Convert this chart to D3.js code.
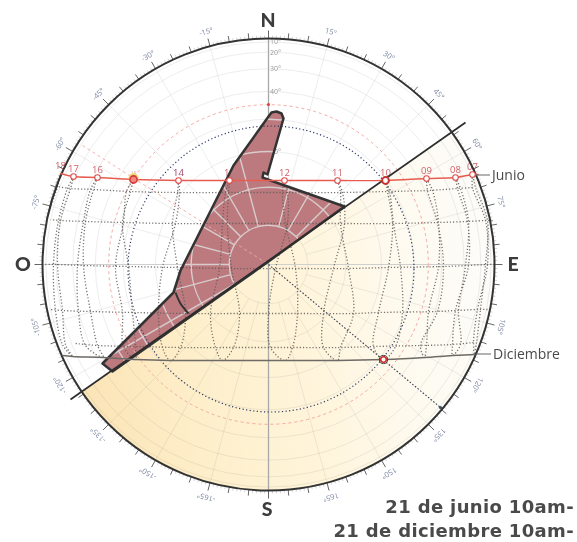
<!DOCTYPE html>
<html><head><meta charset="utf-8">
<style>html,body{margin:0;padding:0;background:#fff}svg{display:block;filter:blur(.3px)}</style>
<script src="https://cdnjs.cloudflare.com/ajax/libs/d3/7.8.5/d3.min.js"></script>
</head><body><svg id="c" width="577" height="542"></svg>
<script>
// altitude / azimuth grid
const altitudes=[10,20,30,40,50,60,70,80];
const azimuthLabels=[15,30,45,60,75,105,120,135,150,165,-15,-30,-45,-60,-75,-105,-120,-135,-150,-165];
const cardinals=[{t:"N",az:0},{t:"E",az:90},{t:"S",az:180},{t:"O",az:270}];
// sun path: hours and projected east/north coordinates (horizon radius = 226)
const hours=["07","08","09","10","11","12","13","14","15","16","17","18"];
const juneE=[204,187,158,117,69,16,-39,-90,-135,-171,-195,-208];
const juneN=[90,87,86,84,84,84,84,84,85,87,88,91];
const mayN=[77,76,74,73,72,72,72,72,73,75,76,78];
const aprN=[44,43,42,41,41,41,41,41,42,43,44,45];
const marN=[0,-1,-2,-3,-4,-4,-4,-3,-2,-1,0,0];
const febN=[-45,-46,-47,-48,-49,-49,-49,-49,-48,-47,-46,-45];
const janN=[-78,-80,-81,-82,-83,-83,-83,-83,-82,-81,-80,-79];
const decN=[-90,-91,-93,-95,-96,-96,-96,-96,-95,-93,-92,-91];
const mayE1=[204,189,159,119,72,14,-40,-91,-138,-175,-198,-211];
const mayE2=[207,192,164,121,74,19,-43,-89,-142,-178,-201,-213];
const aprE1=[217,199,169,124,72,17,-41,-96,-146,-183,-208,-222];
const aprE2=[219,200,170,125,76,19,-46,-93,-145,-185,-210,-222];
const marE1=[219,200,175,120,80,27,-37,-91,-140,-185,-211];
const marE2=[217,197,170,132,65,7,-49,-106,-153,-191,-215];
const febE1=[209,187,169,110,85,29,-29,-83,-136,-178,-206];
const febE2=[212,190,160,134,55,0,-58,-110,-146,-190,-213];
const janE1=[205,184,152,105,72,24,-35,-88,-133,-171,-203];
const janE2=[208,192,158,127,55,2,-53,-106,-145,-183,-206];
const decE=[206,184,156,115,69,17,-46,-98,-133,-165,-196];
// row ends at the horizon [west, east]
const aprEnds=[-218,224], marEnds=[-225,226], febEnds=[-218,219], janEnds=[-193,205];
const juneEnds=[[-208,91],[210,90]], decEnds=[[-206,-91],[207,-90]];
// shading mask outline
const maskE=[76,2,-6,-5,-1,15,13,8,3,0,-35,-88,-95,-166,-156,0];
const maskN=[58,84,87,92,90,146,151,153,152,148,99,-6,-28,-99,-107,3];
const innerArcE=[-93,-88,-80], innerArcN=[-28,-39,-49];
const wallE=[-198,197], wallN=[-135,142];
const shadeE=[-198,197,300,300,-300,-300], shadeN=[-135,142,142,-300,-300,-135];
// reference circles / rays
const redAlt=45, blueCircle={e:2.5,n:-4.5,r:143};
const rayJune=[[-186,119],[0,0]], rayDec=[[0,0],[172,-143]];
const june10={e:117,n:84}, june15={e:-135,n:85}, dec10={e:115,n:-95}, noonDot={e:0,n:160};

const svg=d3.select("#c");
const R=226,cx=268.5,cy=264.5;
const X=d3.scaleLinear().domain([-R,R]).range([cx-R,cx+R]);
const Y=d3.scaleLinear().domain([-R,R]).range([cy+R,cy-R]);
const rad=d3.scaleLinear().domain([0,1]).range([0,R]); // orthographic: r = R cos(alt)
const altR=a=>rad(Math.cos(a*Math.PI/180));
const pol=(az,r)=>[cx+r*Math.sin(az*Math.PI/180),cy-r*Math.cos(az*Math.PI/180)];
const zip=(e,n)=>e.map((v,i)=>[v,n[i]]);
const ln=d3.line().x(d=>X(d[0])).y(d=>Y(d[1]));
const smooth=d3.line().x(d=>X(d[0])).y(d=>Y(d[1])).curve(d3.curveCatmullRom);
const defs=svg.append("defs");
defs.append("clipPath").attr("id","disc").append("circle").attr("cx",cx).attr("cy",cy).attr("r",R);
defs.append("clipPath").attr("id","maskClip").append("path").attr("d",ln(zip(maskE,maskN))+"Z");
const g=defs.append("linearGradient").attr("id","sun").attr("gradientUnits","userSpaceOnUse")
 .attr("x1",75).attr("y1",390).attr("x2",490).attr("y2",340);
[[0,"#fbe3b4"],[.3,"#feefcb"],[.58,"#fff5dc"],[.8,"#fefaef"],[1,"#fdfcf9"]].forEach(s=>g.append("stop").attr("offset",s[0]).attr("stop-color",s[1]));

svg.append("path").attr("clip-path","url(#disc)").attr("fill","url(#sun)").attr("d",ln(zip(shadeE,shadeN))+"Z");

function grid(sel,col,w){
 altitudes.forEach(a=>sel.append("circle").attr("cx",cx).attr("cy",cy).attr("r",altR(a)).attr("fill","none").attr("stroke",col).attr("stroke-width",w));
 d3.range(0,360,15).filter(a=>a%180!==0).forEach(a=>{
  const p=pol(a,altR(80)),q=pol(a,R);
  sel.append("line").attr("x1",p[0]).attr("y1",p[1]).attr("x2",q[0]).attr("y2",q[1]).attr("stroke",col).attr("stroke-width",w);
 });
}
grid(svg.append("g"),"rgba(110,110,110,.16)",.8);

// compass ticks
const ticks=svg.append("g");
d3.range(0,360).forEach(a=>{
 const major=a%15===0,mid=a%5===0;
 const p=pol(a,R),q=pol(a,R+(major?8:mid?6:3));
 ticks.append("line").attr("x1",p[0]).attr("y1",p[1]).attr("x2",q[0]).attr("y2",q[1])
  .attr("stroke",mid?"#555":"#bbb").attr("stroke-width",mid?.9:.6);
});
azimuthLabels.forEach(a=>{
 const p=pol(a,R+15);
 svg.append("text").attr("transform",`translate(${p[0]},${p[1]}) rotate(${a})`).attr("text-anchor","middle").attr("dy","0.35em")
  .attr("font-family","Open Sans").attr("font-size",7.5).attr("fill","#7d88a3").text(a+"°");
});
cardinals.forEach(c=>{
 const o={N:[268,27],E:[513,271],S:[267,516],O:[23,271]}[c.t];
 svg.append("text").attr("x",o[0]).attr("y",o[1]).attr("text-anchor","middle").attr("font-family","Lato").attr("font-weight",900)
  .attr("font-size",19.5).attr("fill","#3c3c3c").text(c.t);
});

// axes through the centre
svg.append("line").attr("x1",cx).attr("x2",cx).attr("y1",cy-R).attr("y2",cy+R).attr("stroke","#a8a8a8").attr("stroke-width",1.3);
svg.append("line").attr("x1",cx-R).attr("x2",cx+R).attr("y1",cy).attr("y2",cy).attr("stroke","#ccc").attr("stroke-width",.9);
altitudes.forEach(a=>svg.append("text").attr("x",cx+1.5).attr("y",cy-altR(a)+2.5).attr("font-family","Open Sans").attr("font-size",7).attr("fill","#999").text(a+"°"));

// hour labels beneath the mask
const labelDark={"14":"#a0456a"};
hours.forEach((h,i)=>{
 svg.append("text").attr("x",X(juneE[i])).attr("y",Y(juneN[i])-5).attr("text-anchor","middle").attr("font-family","Open Sans").attr("font-size",h==="15"?5:9.5)
  .attr("fill",labelDark[h]||"#d0606a").attr("opacity",h==="15"?.5:1).text(h);
});

// shading mask
svg.append("path").attr("d",ln(zip(maskE,maskN))+"Z").attr("fill","#bc7a7f");
grid(svg.append("g").attr("clip-path","url(#maskClip)"),"#d8cccc",1.4);

// reference circles and rays
svg.append("circle").attr("cx",cx).attr("cy",cy).attr("r",altR(redAlt)).attr("fill","none").attr("stroke","#f5a8a2").attr("stroke-width",1).attr("stroke-dasharray","3 3");
svg.append("circle").attr("cx",X(blueCircle.e)).attr("cy",Y(blueCircle.n)).attr("r",blueCircle.r).attr("fill","none").attr("stroke","#2b3a66").attr("stroke-width",1.2).attr("stroke-dasharray","1.2 2.4");
svg.append("path").attr("d",ln(rayJune)).attr("fill","none").attr("stroke","#f5a8a2").attr("stroke-width",.9).attr("stroke-dasharray","3 3");
svg.append("path").attr("d",ln(rayDec)).attr("fill","none").attr("stroke","#3a4055").attr("stroke-width",1.1).attr("stroke-dasharray","1.6 1.8");
svg.append("circle").attr("cx",X(rayDec[1][0])).attr("cy",Y(rayDec[1][1])).attr("r",1.6).attr("fill","#3a5070");

// hour loops and month rows (dotted)
const dotted=svg.append("g").attr("fill","none").attr("stroke","#5d5a55").attr("stroke-width",1.3).attr("stroke-dasharray","1.2 2").attr("opacity",.85);
hours.forEach((h,i)=>{
 const pts=[[juneE[i],juneN[i]],[mayE1[i],mayN[i]],[aprE1[i],aprN[i]],[marE1[i],marN[i]],[febE1[i],febN[i]],[janE1[i],janN[i]],[decE[i],decN[i]],
  [janE2[i],janN[i]],[febE2[i],febN[i]],[marE2[i],marN[i]],[aprE2[i],aprN[i]],[mayE2[i],mayN[i]],[juneE[i],juneN[i]]].filter(d=>d[0]!==undefined);
 dotted.append("path").attr("d",smooth(pts));
});
const row=(e,n,ends)=>{
 const pts=e.map((v,i)=>[v,n[i]]).filter(d=>!ends||(d[0]>ends[0]&&d[0]<ends[1]));
 if(ends){pts.unshift([ends[1],n[0]]);pts.push([ends[0],n[n.length-1]]);}
 dotted.append("path").attr("d",smooth(pts));
};
row(mayE1,mayN);row(aprE1,aprN,aprEnds);row(marE1,marN,marEnds);row(febE1,febN,febEnds);row(janE1,janN,janEnds);

// mask outline and wall
svg.append("path").attr("d",ln(zip(maskE,maskN))+"Z").attr("fill","none").attr("stroke","#333").attr("stroke-width",2.5).attr("stroke-linejoin","round");
svg.append("path").attr("d",smooth(zip(innerArcE,innerArcN))).attr("fill","none").attr("stroke","#333").attr("stroke-width",2);
svg.append("path").attr("d",ln(zip(wallE,wallN))).attr("fill","none").attr("stroke","#2d2d2d").attr("stroke-width",1.7);
svg.append("circle").attr("cx",cx).attr("cy",cy).attr("r",R).attr("fill","none").attr("stroke","#333").attr("stroke-width",2);

// solstice paths
const junePts=[juneEnds[1],...zip(juneE,juneN),juneEnds[0]];
svg.append("path").attr("d",smooth(junePts)).attr("fill","none").attr("stroke","#e85c50").attr("stroke-width",1.4);
const decPts=[decEnds[1],...zip(decE,decN),decEnds[0]];
svg.append("path").attr("d",smooth(decPts)).attr("fill","none").attr("stroke","#6e6a66").attr("stroke-width",1.5);
svg.append("circle").attr("cx",X(june15.e)).attr("cy",Y(june15.n)-1.5).attr("r",5).attr("fill","#e6d35a").attr("opacity",.8);
hours.forEach((h,i)=>{
 if(h==="18")return;
 svg.append("circle").attr("cx",X(juneE[i])).attr("cy",Y(juneN[i])).attr("r",2.8).attr("fill","#fff").attr("stroke","#dd4a48").attr("stroke-width",1.1);
});
svg.append("circle").attr("cx",X(june15.e)).attr("cy",Y(june15.n)).attr("r",3.6).attr("fill","#f08a80").attr("stroke","#d8383a").attr("stroke-width",1.6);
svg.append("circle").attr("cx",X(june10.e)).attr("cy",Y(june10.n)).attr("r",3.4).attr("fill","#fff").attr("stroke","#c8332f").attr("stroke-width",2);
svg.append("circle").attr("cx",X(dec10.e)).attr("cy",Y(dec10.n)).attr("r",4.1).attr("fill","none").attr("stroke","#444").attr("stroke-width",1);
svg.append("circle").attr("cx",X(dec10.e)).attr("cy",Y(dec10.n)).attr("r",2.8).attr("fill","#fff").attr("stroke","#d0302c").attr("stroke-width",1.6);
svg.append("circle").attr("cx",X(noonDot.e)).attr("cy",Y(noonDot.n)).attr("r",1.5).attr("fill","#e83a3a");

// leaders and labels
[[476,490,175,"Junio",180],[476,491,354,"Diciembre",359]].forEach(d=>{
 svg.append("line").attr("x1",d[0]).attr("x2",d[1]).attr("y1",d[2]).attr("y2",d[2]).attr("stroke","#666").attr("stroke-width",1);
 svg.append("text").attr("x",d[1]+2).attr("y",d[4]).attr("font-family","Open Sans").attr("font-size",14).attr("fill","#4a4a4a").text(d[3]);
});
[["21 de junio 10am-",513],["21 de diciembre 10am-",537]].forEach(d=>{
 svg.append("text").attr("x",574).attr("y",d[1]).attr("text-anchor","end").attr("font-family","DejaVu Sans").attr("font-weight",700).attr("font-size",18).attr("letter-spacing",".35").attr("fill","#4a4a4a").text(d[0]);
});
</script></body></html>
